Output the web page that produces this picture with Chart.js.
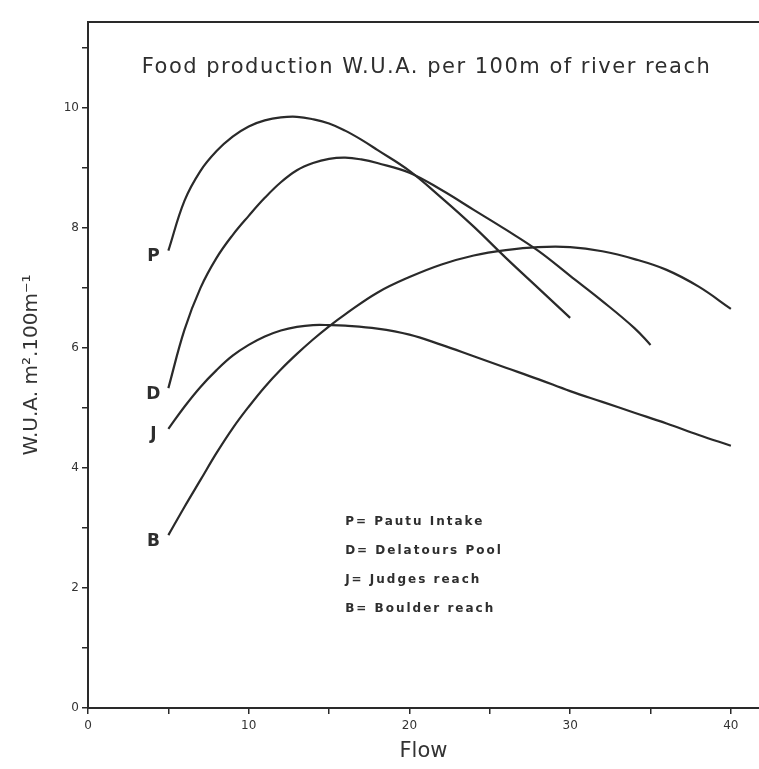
<!DOCTYPE html>
<html><head><meta charset="utf-8">
<script src="https://cdn.jsdelivr.net/npm/chart.js@4/dist/chart.umd.min.js"></script>
<style>html,body{margin:0;padding:0;background:#fff}#wrap{width:759px;height:769px}</style>
</head><body><div id="wrap"><canvas id="c" width="759" height="769"></canvas></div>
<script>
// ---- data ----
const flowP = [5, 6, 7, 8, 9, 10, 11, 12, 13, 14, 15, 16, 17, 18, 20, 22, 24, 26, 28, 30];
const wuaP  = [7.62, 8.45, 8.95, 9.28, 9.52, 9.69, 9.79, 9.84, 9.85, 9.81, 9.74, 9.62, 9.47, 9.3, 8.95, 8.5, 8.02, 7.5, 7.0, 6.5];

const flowD = [5, 6, 7, 8, 9, 10, 11, 12, 13, 14, 15, 16, 17, 18, 20, 22, 24, 26, 28, 30, 32, 34, 35];
const wuaD  = [5.33, 6.3, 7.0, 7.5, 7.88, 8.2, 8.5, 8.76, 8.96, 9.08, 9.15, 9.17, 9.14, 9.08, 8.92, 8.63, 8.3, 7.97, 7.62, 7.2, 6.78, 6.33, 6.05];

const flowJ = [5, 6, 7, 8, 9, 10, 11, 12, 13, 14, 15, 16, 18, 20, 22, 24, 26, 28, 30, 32, 34, 36, 38, 40];
const wuaJ  = [4.65, 5.02, 5.35, 5.63, 5.87, 6.05, 6.19, 6.29, 6.35, 6.38, 6.38, 6.37, 6.32, 6.22, 6.05, 5.86, 5.67, 5.48, 5.28, 5.1, 4.92, 4.74, 4.55, 4.37];

const flowB = [5, 6, 7, 8, 9, 10, 11, 12, 13, 14, 15, 16, 18, 20, 22, 24, 26, 28, 30, 32, 34, 36, 38, 40];
const wuaB  = [2.88, 3.35, 3.8, 4.25, 4.66, 5.02, 5.35, 5.64, 5.9, 6.14, 6.36, 6.56, 6.92, 7.18, 7.39, 7.54, 7.63, 7.68, 7.68, 7.61, 7.48, 7.3, 7.02, 6.65];

const curveLetters = ['P', 'D', 'J', 'B'];
const legendLines = ['P= Pautu Intake', 'D= Delatours Pool', 'J= Judges reach', 'B= Boulder reach'];
const titleText = 'Food production W.U.A. per 100m of river reach';
const xAxisTitle = 'Flow';
const yAxisTitle = 'W.U.A. m\u00B2.100m\u207B\u00B9';
const xLabelledTicks = [0, 10, 20, 30, 40];
const yLabelledTicks = [0, 2, 4, 6, 8, 10];

// ---- chart ----
const INK = '#2a2a2a';
function pts(xs, ys) { return xs.map((x, i) => ({ x: x, y: ys[i] })); }
const seriesList = [[flowP, wuaP], [flowD, wuaD], [flowJ, wuaJ], [flowB, wuaB]];

const decor = {
  id: 'decor',
  afterDraw(chart) {
    const ctx = chart.ctx, a = chart.chartArea;
    const xs = chart.scales.x, ys = chart.scales.y;
    const hasLS = ('letterSpacing' in ctx);
    ctx.save();
    // top frame line
    ctx.strokeStyle = INK; ctx.lineWidth = 2;
    ctx.beginPath(); ctx.moveTo(a.left - 1, a.top); ctx.lineTo(a.right, a.top); ctx.stroke();
    // title
    ctx.fillStyle = '#2e2e2e';
    ctx.font = '21px "DejaVu Sans"';
    if (hasLS) ctx.letterSpacing = '1.5px';
    ctx.textAlign = 'center'; ctx.textBaseline = 'middle';
    ctx.fillText(titleText, (a.left + a.right) / 2 + 3, a.top + 46);
    if (hasLS) ctx.letterSpacing = '0px';
    // curve letters at each curve start
    ctx.font = 'bold 17px "DejaVu Sans"';
    chart.data.datasets.forEach((ds, i) => {
      const p = chart.getDatasetMeta(i).data[0];
      ctx.fillText(curveLetters[i], p.x - 15, p.y + 6);
    });
    // key
    ctx.font = 'bold 12px "DejaVu Sans"';
    ctx.textAlign = 'left';
    if (hasLS) ctx.letterSpacing = '2px';
    const kx = xs.getPixelForValue(16), ky = ys.getPixelForValue(3.1);
    legendLines.forEach((t, i) => ctx.fillText(t, kx, ky + i * 29));
    ctx.restore();
  }
};

new Chart(document.getElementById('c'), {
  type: 'line',
  data: {
    datasets: seriesList.map(([xs, ys]) => ({
      data: pts(xs, ys),
      borderColor: INK, borderWidth: 2.2, pointRadius: 0,
      tension: 0.4, fill: false
    }))
  },
  options: {
    responsive: false, animation: false, devicePixelRatio: 1,
    layout: { padding: { top: 22, right: 0, left: 0, bottom: 0 } },
    plugins: { legend: { display: false }, tooltip: { enabled: false }, title: { display: false } },
    scales: {
      x: {
        type: 'linear', min: 0, max: 41.75,
        ticks: {
          stepSize: 5, includeBounds: false, autoSkip: false, maxRotation: 0, padding: 5,
          color: '#333', font: { family: 'DejaVu Sans', size: 12 },
          callback: v => xLabelledTicks.includes(v) ? String(v) : ''
        },
        grid: { drawOnChartArea: false, drawTicks: true, tickLength: 6, color: INK, lineWidth: 1.5 },
        border: { display: true, color: INK, width: 2 },
        title: { display: true, text: xAxisTitle, color: '#333', font: { family: 'DejaVu Sans', size: 21 }, padding: { top: 0, bottom: 5 } },
        afterFit: s => { s.height = 61; }
      },
      y: {
        type: 'linear', min: 0, max: 11.43,
        ticks: {
          stepSize: 1, includeBounds: false, autoSkip: false, padding: 3,
          color: '#333', font: { family: 'DejaVu Sans', size: 12 },
          callback: v => yLabelledTicks.includes(v) ? String(v) : ''
        },
        grid: { drawOnChartArea: false, drawTicks: true, tickLength: 6, color: INK, lineWidth: 1.5 },
        border: { display: true, color: INK, width: 2 },
        title: { display: true, text: yAxisTitle, color: '#333', font: { family: 'DejaVu Sans', size: 20 }, padding: { top: 20, bottom: 0 } },
        afterFit: s => { s.width = 88; }
      }
    }
  },
  plugins: [decor]
});
</script>
</body></html>
